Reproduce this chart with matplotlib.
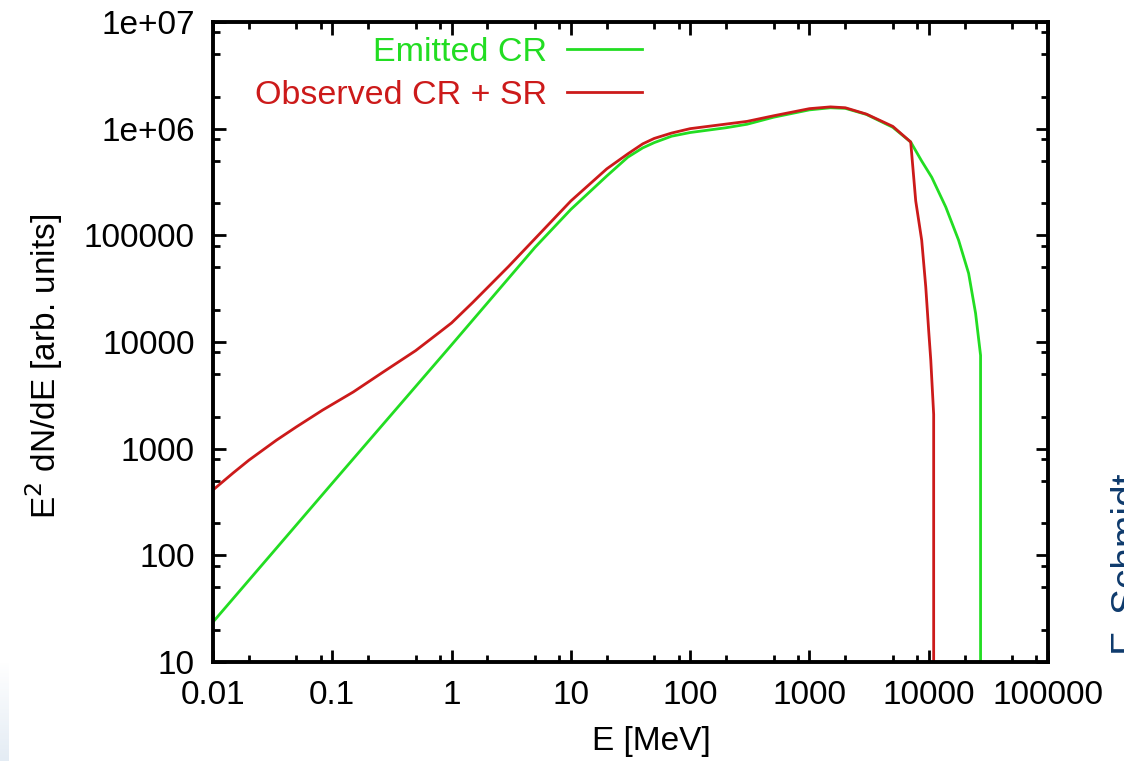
import matplotlib.pyplot as plt
from matplotlib.ticker import FixedLocator, FixedFormatter, LogLocator, NullFormatter
from matplotlib.colors import LinearSegmentedColormap
import numpy as np

plt.rcParams['font.family'] = ['Liberation Sans', 'DejaVu Sans']

# Emitted cosmic-ray spectrum, E^2 dN/dE
E_emit = [0.01, 0.1, 1, 5, 10, 20, 30, 40, 50, 70, 100, 200, 300, 500, 1000,
          1500, 2000, 3000, 5000, 7060, 8700, 10600, 13900, 17800, 21600,
          24700, 27200, 27200]
F_emit = [23.7, 475, 9400, 7.7e4, 1.75e5, 3.6e5, 5.4e5, 6.6e5, 7.4e5, 8.5e5,
          9.2e5, 1.02e6, 1.1e6, 1.28e6, 1.5e6, 1.57e6, 1.55e6, 1.36e6, 1.03e6,
          7.5e5, 5.0e5, 3.5e5, 1.84e5, 9.0e4, 4.4e4, 1.86e4, 7500, 1]

# Observed spectrum, cosmic rays plus synchrotron radiation
E_obs = [0.01, 0.0147, 0.02, 0.034, 0.05, 0.083, 0.15, 0.265, 0.5, 0.79, 1,
         1.5, 3, 10, 20, 30, 40, 50, 70, 100, 300, 500, 1000, 1500, 2000, 3000,
         5000, 7060, 7780, 8730, 9440, 10000, 10400, 11000, 11000]
F_obs = [410, 590, 780, 1200, 1600, 2300, 3400, 5200, 8300, 12300, 15100,
         23400, 5.1e4, 2.1e5, 4.2e5, 5.8e5, 7.2e5, 8.1e5, 9.1e5, 1.0e6, 1.17e6,
         1.32e6, 1.54e6, 1.6e6, 1.57e6, 1.37e6, 1.05e6, 7.5e5, 2.1e5, 9.0e4,
         3.3e4, 1.26e4, 6800, 2100, 1]

x_ticks = [0.01, 0.1, 1, 10, 100, 1000, 10000, 100000]
x_labels = ['0.01', '0.1', '1', '10', '100', '1000', '10000', '100000']
y_ticks = [10, 100, 1000, 10000, 100000, 1e6, 1e7]
y_labels = ['10', '100', '1000', '10000', '100000', '1e+06', '1e+07']

green = '#22dd22'
red = '#cc1a1a'
fs = 24

fig = plt.figure(figsize=(11.24, 7.61), dpi=100)
ax = fig.add_axes([0.1895, 0.1301, 0.7429, 0.8410])

ax.plot(E_emit, F_emit, color=green, lw=2.0, label='Emitted CR')
ax.plot(E_obs, F_obs, color=red, lw=2.0, label='Observed CR + SR')

ax.set_xscale('log')
ax.set_yscale('log')
ax.set_xlim(0.01, 100000)
ax.set_ylim(10, 1e7)

for axis, ticks, labels in [(ax.xaxis, x_ticks, x_labels), (ax.yaxis, y_ticks, y_labels)]:
    axis.set_major_locator(FixedLocator(ticks))
    axis.set_major_formatter(FixedFormatter(labels))
    axis.set_minor_locator(LogLocator(base=10, subs=(2, 5, 8), numticks=20))
    axis.set_minor_formatter(NullFormatter())

ax.tick_params(which='both', direction='in', top=True, right=True, width=2,
               labelsize=fs, colors='black')
ax.tick_params(which='major', length=9, pad=13)
ax.tick_params(which='minor', length=5)
for s in ax.spines.values():
    s.set_linewidth(2.8)

ax.set_xlabel('E [MeV]', fontsize=fs)
ax.set_ylabel('E$^2$ dN/dE [arb. units]', fontsize=fs)
ax.xaxis.set_label_coords(0.525, -0.100)
ax.yaxis.set_label_coords(-0.177, 0.4625)

leg = ax.legend(loc='upper right', bbox_to_anchor=(0.524, 0.99), frameon=False,
                markerfirst=False, fontsize=24.5, handlelength=2.2,
                handletextpad=0.6, labelspacing=0.36, borderpad=0.25,
                borderaxespad=0, labelcolor='linecolor')

# name on the right margin, partly cut off by the figure edge
fig.text(1111 / 1124, 106 / 761, 'F. Schmidt', rotation=90, ha='left',
         va='bottom', fontsize=28, color='#0e3a6c')

# faint slide shading in the lower left corner
shade = fig.add_axes([0, 0, 9 / 1124, 100 / 761])
grad = np.linspace(0, 1, 50).reshape(-1, 1)
shade.imshow(grad, aspect='auto', origin='lower', extent=[0, 1, 0, 1],
             cmap=LinearSegmentedColormap.from_list('sh', ['#e4ecf4', '#ffffff']))
shade.axis('off')

fig.savefig('out.png', dpi=100)
